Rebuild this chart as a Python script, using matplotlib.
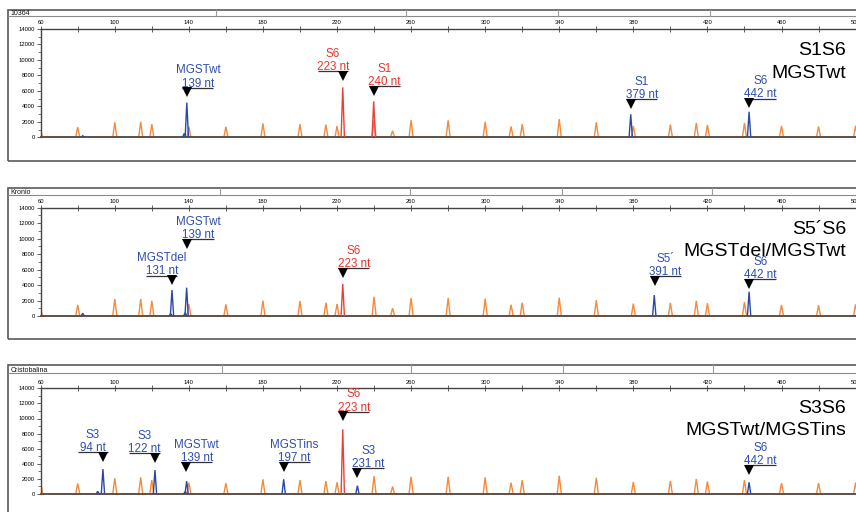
"""
Capillary electrophoresis traces (GeneMapper style) for three samples:
10364 (S1S6), Kronio (S5'S6) and Cristobalina (S3S6).
"""

import matplotlib.pyplot as plt
from matplotlib.patches import Rectangle
from matplotlib.lines import Line2D
from matplotlib.transforms import offset_copy

plt.rcParams['font.family'] = ['Liberation Sans', 'DejaVu Sans']

# ----------------------------------------------------------------
# Data (fragment size in nt, peak height in RFU)
# ----------------------------------------------------------------
SIZE_STD = [60, 80, 100, 114, 120, 140, 160, 180, 200, 214, 220, 240, 250,
            260, 280, 300, 314, 320, 340, 360, 380, 400, 414, 420, 440, 460,
            480, 500]

ORANGE_10364 = [800, 1300, 1950, 2000, 1700, 1400, 1350, 1800, 1700, 1650,
                1450, 2250, 850, 2200, 2200, 2000, 1400, 1700, 2350, 1950,
                1450, 1650, 1850, 1600, 1850, 1450, 1400, 1500]
ORANGE_KRONIO = [800, 1420, 2200, 2200, 1950, 1550, 1500, 2000, 1940, 1720,
                 1550, 2500, 1000, 2330, 2330, 2240, 1460, 1720, 2370, 2050,
                 1600, 1700, 1980, 1650, 1800, 1420, 1400, 1500]
ORANGE_CRISTO = [1500, 1400, 2080, 2200, 1850, 1500, 1450, 1950, 1850, 1720,
                 1550, 2380, 970, 2290, 2290, 2200, 1500, 1850, 2420, 2150,
                 1590, 1720, 1990, 1650, 1850, 1450, 1450, 1500]

BLUE_POS_10364 = [82.7, 137.5, 138.9, 378.6, 442.5]
BLUE_H_10364 = [200, 500, 4480, 2970, 3300]
RED_POS_10364 = [223.1, 239.8]
RED_H_10364 = [6450, 4650]

BLUE_POS_KRONIO = [82.7, 130.2, 130.9, 138.0, 138.8, 391.3, 442.5]
BLUE_H_KRONIO = [350, 300, 3360, 400, 3660, 2700, 3140]
RED_POS_KRONIO = [223.1]
RED_H_KRONIO = [4140]

BLUE_POS_CRISTO = [90.8, 93.6, 121.7, 138.0, 138.8, 191.2, 231.0, 442.5]
BLUE_H_CRISTO = [350, 3300, 3170, 300, 1700, 1950, 1100, 1550]
RED_POS_CRISTO = [223.1]
RED_H_CRISTO = [8570]

# (peak, name, size label, dye, label height, side of underline)
LABELS_10364 = [
    (139.0, "MGSTwt", "139 nt", "blue", 6410, "r"),
    (223.3, "S6", "223 nt", "red", 8570, "l"),
    (239.8, "S1", "240 nt", "red", 6630, "r"),
    (378.7, "S1", "379 nt", "blue", 4950, "r"),
    (442.6, "S6", "442 nt", "blue", 4990, "r"),
]
LABELS_KRONIO = [
    (139.2, "MGSTwt", "139 nt", "blue", 9920, "r"),
    (130.9, "MGSTdel", "131 nt", "blue", 5210, "l"),
    (223.1, "S6", "223 nt", "red", 6210, "r"),
    (391.5, "S5\u00b4", "391 nt", "blue", 5130, "r"),
    (442.6, "S6", "442 nt", "blue", 4750, "r"),
]
LABELS_CRISTO = [
    (93.8, "S3", "94 nt", "blue", 5520, "l"),
    (121.6, "S3", "122 nt", "blue", 5390, "l"),
    (138.3, "MGSTwt", "139 nt", "blue", 4200, "r"),
    (191.2, "MGSTins", "197 nt", "blue", 4200, "r"),
    (223.1, "S6", "223 nt", "red", 10900, "r"),
    (231.0, "S3", "231 nt", "blue", 3400, "r"),
    (442.6, "S6", "442 nt", "blue", 3800, "r"),
]

SAMPLES = ["10364", "Kronio", "Cristobalina"]
TITLES = [("S1S6", "MGSTwt"),
          ("S5\u00b4S6", "MGSTdel/MGSTwt"),
          ("S3S6", "MGSTwt/MGSTins")]

# ----------------------------------------------------------------
# Styling / layout (pixel positions on an 856 x 512 canvas)
# ----------------------------------------------------------------
W, H = 856, 512
DYE = {"blue": "#2a48a6", "red": "#e8413a", "orange": "#f58a3c"}
TXT = {"blue": "#2f4fae", "red": "#e8352c"}
X_PER_NT = 1.852          # px per nt
X0_PX = 40.7              # px of 60 nt

# axes top, axes bottom, frame top, header bottom, frame bottom, dividers
PANELS = [
    (29.0, 137.3, 10.0, 16.3, 161.3, [216, 406, 558, 710]),
    (207.7, 316.0, 188.0, 195.0, 339.3, [220, 410, 562, 712]),
    (388.3, 494.0, 365.3, 372.7, 540.0, [222, 411, 563, 713]),
]
TITLE_BASE = [(55.2, 78.0), (233.6, 256.2), (412.9, 435.2)]


def fy(px):
    return 1 - px / H


def fx(px):
    return px / W


def draw_peaks(ax, pos, hts, color, hw=1.1, lw=1.0, z=2):
    for p, h in zip(pos, hts):
        ax.plot([p - hw, p, p + hw], [0, h, 0], color=color, lw=lw,
                solid_joinstyle="miter", zorder=z)


def label_peak(ax, x, name, size, dye, y, side):
    fig = ax.figure
    if side == "r":
        x0, x1 = x - 2.5, x + 14.3
    else:
        x0, x1 = x - 13.8, x + 2.7
    xc = (x0 + x1) / 2
    ax.plot([x0, x1], [y, y], color="#333333", lw=0.9,
            solid_capstyle="butt", zorder=5)
    tri = offset_copy(ax.transData, fig=fig, y=-4.6, units="dots")
    ax.plot([x], [y], marker="v", ms=6.6, color="black", mew=0,
            transform=tri, zorder=6)
    t2 = offset_copy(ax.transData, fig=fig, y=1.2, units="dots")
    ax.text(xc, y, size, color=TXT[dye], fontsize=8.4, ha="center",
            va="baseline", transform=t2, zorder=6)
    t1 = offset_copy(ax.transData, fig=fig, y=14.4, units="dots")
    ax.text(xc, y, name, color=TXT[dye], fontsize=8.4, ha="center",
            va="baseline", transform=t1, zorder=6)


fig = plt.figure(figsize=(W / 100, H / 100), dpi=100)

orange_sets = [ORANGE_10364, ORANGE_KRONIO, ORANGE_CRISTO]
blue_sets = [(BLUE_POS_10364, BLUE_H_10364), (BLUE_POS_KRONIO, BLUE_H_KRONIO),
             (BLUE_POS_CRISTO, BLUE_H_CRISTO)]
red_sets = [(RED_POS_10364, RED_H_10364), (RED_POS_KRONIO, RED_H_KRONIO),
            (RED_POS_CRISTO, RED_H_CRISTO)]
label_sets = [LABELS_10364, LABELS_KRONIO, LABELS_CRISTO]

for i, (top, bot, ftop, hbot, fbot, divs) in enumerate(PANELS):
    # ── outer frame with header strip ──────────────────────────
    fig.patches.append(Rectangle((fx(7.7), fy(fbot)), fx(880), fy(ftop) - fy(fbot),
                                 transform=fig.transFigure, fill=False,
                                 ec="#5a5a5a", lw=1.2, zorder=0))
    fig.lines.append(Line2D([fx(7.7), 1.05], [fy(hbot), fy(hbot)],
                            transform=fig.transFigure, color="#8a8a8a", lw=0.8))
    for d in divs:
        fig.lines.append(Line2D([fx(d), fx(d)], [fy(ftop), fy(hbot)],
                                transform=fig.transFigure, color="#9a9a9a", lw=0.8))
    fig.text(fx(10.5), fy(hbot - 1.2), SAMPLES[i], fontsize=5, va="baseline",
             ha="left", color="#111111")

    # ── trace axes ─────────────────────────────────────────────
    x_right = X0_PX + (501 - 60) * X_PER_NT
    ax = fig.add_axes([fx(X0_PX), fy(bot), fx(x_right - X0_PX), (bot - top) / H])
    ax.set_xlim(60, 501)
    ax.set_ylim(0, 14000)

    draw_peaks(ax, SIZE_STD, orange_sets[i], DYE["orange"], z=2)
    draw_peaks(ax, *blue_sets[i], DYE["blue"], hw=0.9, z=3)
    draw_peaks(ax, *red_sets[i], DYE["red"], hw=0.9, z=4)

    for lab in label_sets[i]:
        label_peak(ax, *lab)

    # panel title (right aligned)
    t_a, t_b = TITLES[i]
    b_a, b_b = TITLE_BASE[i]
    fig.text(fx(846), fy(b_a), t_a, fontsize=14, ha="right", va="baseline")
    fig.text(fx(846), fy(b_b), t_b, fontsize=14, ha="right", va="baseline")

    # spines & ticks
    ax.spines["right"].set_visible(False)
    for s in ("top", "left"):
        ax.spines[s].set_color("#444444")
        ax.spines[s].set_linewidth(1.0)
    ax.spines["bottom"].set_color("#5c5048")
    ax.spines["bottom"].set_linewidth(1.4)

    ax.xaxis.tick_top()
    ax.set_xticks(range(60, 501, 40))
    ax.set_xticks(range(80, 501, 40), minor=True)
    ax.tick_params(axis="x", which="both", direction="inout", length=4,
                   width=0.6, color="#444444", labelsize=4.2, pad=0.6)
    ax.set_yticks(range(0, 14001, 2000))
    ax.set_yticks(range(1000, 14000, 2000), minor=True)
    ax.tick_params(axis="y", which="major", length=3, width=0.6,
                   color="#444444", labelsize=4.2, pad=1)
    ax.tick_params(axis="y", which="minor", length=2, width=0.5,
                   color="#444444")
    ax.patch.set_alpha(0)

fig.savefig("out.png", dpi=100)
